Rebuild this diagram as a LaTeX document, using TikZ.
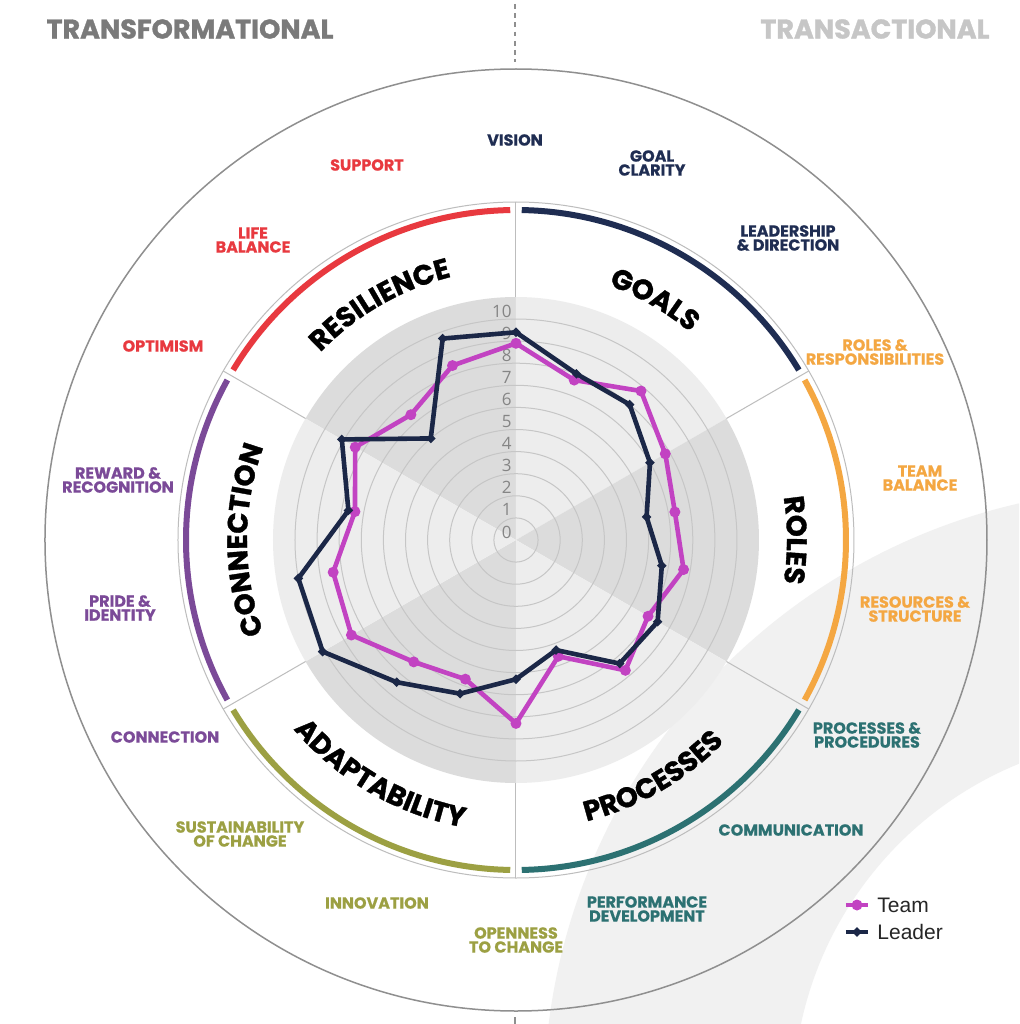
\documentclass[tikz,border=0pt]{standalone}
\usepackage{fontspec}
\setmainfont{Poppins}
\newfontfamily\heavyfont{Poppins}[BoldFeatures={FakeBold=1.2}]
\newfontfamily\itemfamily{Poppins}[BoldFeatures={FakeBold=0.6}]
\newfontfamily\legendfont{Liberation Sans}
\newfontfamily\tickfont{Open Sans}
\usetikzlibrary{decorations.text,shapes.geometric,positioning}
\definecolor{resred}{HTML}{E8393F}
\definecolor{goalnavy}{HTML}{1F2D52}
\definecolor{roleorange}{HTML}{F4A742}
\definecolor{procteal}{HTML}{2C7172}
\definecolor{adaptolive}{HTML}{9CA043}
\definecolor{connpurple}{HTML}{7B4A98}
\definecolor{teammag}{HTML}{C243C2}
\definecolor{leadnavy}{HTML}{1B2747}
\definecolor{sectordark}{HTML}{DCDCDC}
\definecolor{sectorlight}{HTML}{EDEDED}
\definecolor{bandgray}{HTML}{F1F1F1}
\definecolor{ringgray}{HTML}{C6C6C6}
\definecolor{outergray}{HTML}{8F8F8F}
\definecolor{thingray}{HTML}{BDBDBD}
\definecolor{tickgray}{HTML}{858585}
\definecolor{transgray}{HTML}{7A7A7A}
\definecolor{transactgray}{HTML}{C6C6C6}
\newcommand\catfont{\heavyfont\bfseries\fontsize{14}{14}\selectfont}

\begin{document}
\begin{tikzpicture}[x=0.5pt,y=0.5pt,
   item/.style={font=\itemfamily\bfseries\fontsize{8}{7}\selectfont,align=center,inner sep=0pt},
   cattext/.style={decorate,decoration={text along path,text align=center,text={|\catfont|#1}}},
   ticklabel/.style={font=\tickfont\fontsize{8.5}{9}\selectfont,text=tickgray,anchor=east,inner sep=0pt},
   teamline/.style={teammag,line width=2.3pt,line join=round},
   leadline/.style={leadnavy,line width=2.3pt,line join=round},
   teamdot/.style={circle,fill=teammag,minimum size=5.5pt,inner sep=0pt},
   leaddot/.style={diamond,fill=leadnavy,minimum size=5pt,inner sep=0pt},
   legendtext/.style={font=\legendfont\fontsize{10.5}{12}\selectfont,text=black!85,anchor=west,inner sep=0pt},
   title/.style={font=\heavyfont\bfseries\fontsize{13.5}{14}\selectfont,inner sep=0pt}]
   \useasboundingbox (-516,-484) rectangle (503,540);
   \fill[white] (-516,-484) rectangle (503,540);
   \begin{scope}
      \clip (-516,-484) rectangle (503,540);
      \fill[bandgray,even odd rule] (640,-560) circle (612) (640,-560) circle (363);
   \end{scope}
   \draw[outergray,line width=0.75pt] (0,0) circle (471);
   \draw[thingray,line width=0.5pt] (0,0) circle (338);
   \foreach \a/\c in {90/goalnavy,30/roleorange,-30/procteal,-90/adaptolive,-150/connpurple,150/resred}
      \draw[\c,line width=3pt] ({\a-1}:330) arc[start angle={\a-1},end angle={\a-59},radius=330];
   \foreach \a/\c in {90/sectordark,30/sectorlight,-30/sectordark,-90/sectorlight,-150/sectordark,150/sectorlight}
      \fill[\c] (0,0) -- (\a:243) arc[start angle=\a,end angle={\a+60},radius=243] -- cycle;
   \foreach \a in {90,30,-30,-90,-150,150}
      \draw[thingray,line width=0.5pt] (\a:243) -- (\a:338);
   \foreach \k in {1,...,10}
      \draw[ringgray,line width=0.5pt] (0,0) circle ({22.1*\k});
   \foreach \k in {0,...,10}
      \node[ticklabel] (tick\k) at (-4,{22.1*\k+8}) {\k};
   \foreach \v [count=\i from 0] in {8.9,7.7,8.8,7.8,7.3,7.7,6.9,7.7,5.6,8.3,6.7,7.2,8.6,8.4,7.4,8.4,7.4,8.4}
      \coordinate (t\i) at ({90-20*\i}:{22.1*\v});
   \foreach \v [count=\i from 0] in {9.4,8.0,8.0,7.0,6.0,6.7,7.4,7.3,5.3,6.3,7.4,8.4,10.1,10.0,7.7,9.1,6.0,9.7}
      \coordinate (l\i) at ({90-20*\i}:{22.1*\v});
   \draw[teamline] (t0) \foreach \i in {1,...,17}{-- (t\i)} -- cycle;
   \foreach \i in {0,...,17} \node[teamdot] (tm\i) at (t\i) {};
   \draw[leadline] (l0) \foreach \i in {1,...,17}{-- (l\i)} -- cycle;
   \foreach \i in {0,...,17} \node[leaddot] (lm\i) at (l\i) {};
   \path[cattext=RESILIENCE] (150:271) arc[start angle=150,end angle=90,radius=271];
   \path[cattext=GOALS] (90:271) arc[start angle=90,end angle=30,radius=271];
   \path[cattext=ROLES] (30:271) arc[start angle=30,end angle=-30,radius=271];
   \path[cattext=PROCESSES] (-90:290) arc[start angle=-90,end angle=-30,radius=290];
   \path[cattext=ADAPTABILITY] (-150:292) arc[start angle=-150,end angle=-90,radius=292];
   \path[cattext=CONNECTION] (210:269) arc[start angle=210,end angle=150,radius=269];
   \foreach \p/\txt/\c [count=\i from 0] in {
      {(-1,400)}/{VISION}/goalnavy,
      {(136,377)}/{GOAL\\CLARITY}/goalnavy,
      {(272,302)}/{LEADERSHIP\\\& DIRECTION}/goalnavy,
      {(359,188)}/{ROLES \&\\RESPONSIBILITIES}/roleorange,
      {(404,62)}/{TEAM\\BALANCE}/roleorange,
      {(399,-69)}/{RESOURCES \&\\STRUCTURE}/roleorange,
      {(351,-195)}/{PROCESSES \&\\PROCEDURES}/procteal,
      {(275,-290)}/{COMMUNICATION}/procteal,
      {(131,-369)}/{PERFORMANCE\\DEVELOPMENT}/procteal,
      {(0,-400)}/{OPENNESS\\TO CHANGE}/adaptolive,
      {(-139,-363)}/{INNOVATION}/adaptolive,
      {(-276,-294)}/{SUSTAINABILITY\\OF CHANGE}/adaptolive,
      {(-351,-197)}/{CONNECTION}/connpurple,
      {(-396,-68)}/{PRIDE \&\\IDENTITY}/connpurple,
      {(-398,60)}/{REWARD \&\\RECOGNITION}/connpurple,
      {(-353,194)}/{OPTIMISM}/resred,
      {(-263,300)}/{LIFE\\BALANCE}/resred,
      {(-149,375)}/{SUPPORT}/resred}
      \node[item,text=\c] (item\i) at \p {\txt};
   \node[title,text=transgray] (transform) at (-326,511) {TRANSFORMATIONAL};
   \node[title,text=transactgray] (transact) at (359,511) {TRANSACTIONAL};
   \coordinate (dottop) at (-1,536);
   \coordinate (dotend) at (-1,478);
   \draw[outergray,line width=1pt,dash pattern=on 2.4pt off 2.2pt] (dottop) -- (dotend);
   \coordinate (botdot) at (-1,-477);
   \draw[outergray,line width=1pt] (botdot) -- ++(0,-7);
   \node[teamdot] (legteam) at (341,-365) {};
   \draw[teamline] ([xshift=-5.5pt]legteam.center) -- ([xshift=5.5pt]legteam.center);
   \node[legendtext] (teamtxt) at (361,-365) {Team};
   \node[leaddot] (leglead) at (341,-392) {};
   \draw[leadline] ([xshift=-5.5pt]leglead.center) -- ([xshift=5.5pt]leglead.center);
   \node[legendtext] (leadtxt) at (361,-392) {Leader};
\end{tikzpicture}
\end{document}
